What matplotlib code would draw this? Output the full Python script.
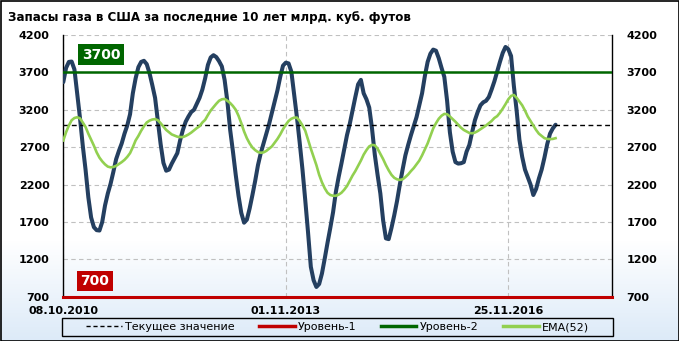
import numpy as np
import pandas as pd
import matplotlib
matplotlib.use("Agg")
import matplotlib.pyplot as plt
import matplotlib.dates as mdates
from matplotlib.lines import Line2D
from matplotlib.patches import Rectangle

# Data: US gas storage, bcf, every 2 weeks from 08.10.2010
stock = [3570, 3760, 3840, 3845, 3740, 3420, 3090, 2720, 2400, 2030,
         1760, 1630, 1590, 1585, 1700, 1920, 2080, 2210, 2370, 2540,
         2650, 2750, 2880, 2990, 3140, 3420, 3620, 3770, 3840, 3855,
         3810, 3690, 3530, 3360, 3050, 2740, 2490, 2385, 2400, 2480,
         2550, 2620, 2790, 2930, 3040, 3110, 3170, 3200, 3280, 3360,
         3470, 3620, 3800, 3900, 3930, 3905, 3850, 3780, 3600, 3310,
         2930, 2640, 2330, 2050, 1820, 1690, 1730, 1880, 2060, 2250,
         2460, 2620, 2750, 2880, 3010, 3160, 3310, 3460, 3640, 3790,
         3830, 3820, 3710, 3410, 3100, 2760, 2400, 1990, 1560, 1100,
         920, 830, 870, 1010, 1210, 1420, 1620, 1830, 2100, 2300,
         2480, 2670, 2860, 3010, 3190, 3370, 3540, 3600, 3420, 3340,
         3230, 2950, 2600, 2330, 2080, 1720, 1480, 1470, 1620, 1790,
         1980, 2200, 2400, 2590, 2730, 2860, 2980, 3100, 3260, 3420,
         3650, 3840, 3950, 4005, 3990, 3890, 3760, 3640, 3320, 2900,
         2640, 2500, 2480, 2485, 2500, 2640, 2730, 2900, 3060, 3170,
         3260, 3300, 3320, 3370, 3470, 3580, 3710, 3840, 3960, 4040,
         4010, 3920, 3520, 3190, 2800, 2570, 2400, 2300, 2200, 2060,
         2140, 2280, 2400, 2560, 2740, 2880, 2950, 3000]

ema = [2790, 2900, 2990, 3060, 3090, 3100, 3085, 3030, 2970, 2880,
       2800, 2720, 2630, 2560, 2510, 2470, 2440, 2430, 2435, 2450,
       2475, 2500, 2530, 2570, 2620, 2700, 2790, 2850, 2920, 2980,
       3030, 3055, 3070, 3075, 3060, 3020, 2975, 2930, 2900, 2870,
       2855, 2840, 2835, 2835, 2850, 2870, 2895, 2925, 2955, 2980,
       3030, 3065, 3130, 3190, 3235, 3280, 3320, 3340, 3345, 3320,
       3290, 3250, 3200, 3120, 3020, 2910, 2820, 2750, 2695, 2660,
       2635, 2625, 2630, 2650, 2680, 2710, 2760, 2810, 2870, 2940,
       3000, 3050, 3080, 3095, 3095, 3050, 2990, 2920, 2800, 2680,
       2570, 2460, 2330, 2230, 2150, 2090, 2060, 2050, 2050, 2065,
       2090, 2130, 2180, 2250, 2320, 2380, 2450, 2520, 2600, 2660,
       2710, 2730, 2725, 2680, 2610, 2540, 2460, 2390, 2330, 2290,
       2270, 2262, 2270, 2300, 2335, 2380, 2420, 2470, 2520, 2590,
       2670, 2750, 2850, 2950, 3020, 3080, 3120, 3145, 3140, 3110,
       3075, 3040, 3000, 2960, 2930, 2910, 2890, 2885, 2895, 2915,
       2940, 2965, 2990, 3020, 3050, 3090, 3115, 3160, 3215, 3275,
       3340, 3385, 3398, 3360, 3310, 3260, 3190, 3110, 3050, 2990,
       2930, 2880, 2850, 2820, 2810, 2808, 2810, 2820]

dates = pd.date_range("2010-10-08", periods=len(stock), freq="14D")
level1 = 700
level2 = 3700
xtick_dates = ["2010-10-08", "2013-11-01", "2016-11-25"]
yticks = [700, 1200, 1700, 2200, 2700, 3200, 3700, 4200]

navy = "#243F60"
ema_green = "#92D050"
dark_green = "#006600"
red = "#C00000"

W, H = 679, 341
fig = plt.figure(figsize=(W / 100, H / 100), dpi=100)

# background gradient (white -> light blue at the bottom)
bg = fig.add_axes([0, 0, 1, 1], zorder=-10)
rows = np.arange(H)
t = np.clip((rows - 240) / (H - 240), 0, 1)
top = np.array([1.0, 1.0, 1.0])
bot = np.array([0xDC, 0xEA, 0xF8]) / 255
grad = top[None, :] * (1 - t[:, None]) + bot[None, :] * t[:, None]
bg.imshow(grad[:, None, :].repeat(4, axis=1), aspect="auto", extent=[0, 1, 0, 1], origin="upper")
bg.axis("off")

x0, x1 = 63.3, 612.3
y0, y1 = 35.0, 296.7
ax = fig.add_axes([x0 / W, 1 - y1 / H, (x1 - x0) / W, (y1 - y0) / H])
ax.patch.set_alpha(0)

ax.plot(dates, stock, color=navy, lw=2.9, solid_capstyle="round", zorder=3)
ax.axhline(stock[-1], color="black", lw=1, ls=(0, (3.5, 2.5)), zorder=4)
ax.axhline(level1, color=red, lw=2.2, zorder=5, clip_on=False)
ax.axhline(level2, color=dark_green, lw=1.8, zorder=5)
ax.plot(dates, ema, color=ema_green, lw=1.9, zorder=6)

ax.set_xlim(pd.Timestamp("2010-10-08"), pd.Timestamp("2010-10-08") + pd.Timedelta(weeks=394.8))
ax.set_ylim(700, 4200)
ax.set_yticks(yticks)
ax.set_xticks(pd.to_datetime(xtick_dates))
ax.xaxis.set_major_formatter(mdates.DateFormatter("%d.%m.%Y"))
ax.grid(True, color="#C0C0C0", lw=0.8, ls=(0, (4, 3)))
ax.set_axisbelow(True)
ax.tick_params(axis="both", length=0, labelsize=8)
ax.tick_params(axis="y", pad=10, labelleft=True, labelright=True)
ax.tick_params(axis="x", pad=7)
for lab in ax.get_xticklabels() + ax.get_yticklabels():
    lab.set_fontweight("bold")
for lab in ax.yaxis.get_majorticklabels():
    lab.set_fontweight("bold")
ax.spines["top"].set_visible(False)
ax.spines["bottom"].set_visible(False)
ax.spines["left"].set_linewidth(1)
ax.spines["right"].set_linewidth(1)

ax.text(0.069, 0.924, "3700", transform=ax.transAxes, ha="center", va="center",
        color="white", fontsize=10, fontweight="bold", zorder=8,
        bbox=dict(boxstyle="square,pad=0.25", fc=dark_green, ec="none"))
ax.text(0.057, 0.06, "700", transform=ax.transAxes, ha="center", va="center",
        color="white", fontsize=10, fontweight="bold", zorder=8,
        bbox=dict(boxstyle="square,pad=0.25", fc=red, ec="none"))

fig.text(8 / W, 1 - 17 / H, "Запасы газа в США за последние 10 лет млрд. куб. футов",
         ha="left", va="center", fontsize=8.6, fontweight="bold")

# legend
handles = [Line2D([], [], color="black", lw=1, ls=(0, (3, 2))),
           Line2D([], [], color=red, lw=2.5),
           Line2D([], [], color=dark_green, lw=2.5),
           Line2D([], [], color=ema_green, lw=2.5)]
names = ["Текущее значение", "Уровень-1", "Уровень-2", "EMA(52)"]
fig.legend(handles, names, loc="center", bbox_to_anchor=(337.5 / W, 1 - 327 / H),
           ncol=4, frameon=False, fontsize=8, handlelength=3.2, handletextpad=0.3,
           columnspacing=2.2)
fig.patches.append(Rectangle((62 / W, 1 - 336 / H), 551 / W, 18 / H, transform=fig.transFigure,
                             fill=False, ec="black", lw=1))
fig.patches.append(Rectangle((0.5 / W, 0.5 / H), (W - 1) / W, (H - 1) / H, transform=fig.transFigure,
                             fill=False, ec="black", lw=1.2))

fig.savefig("out.png", dpi=100)
